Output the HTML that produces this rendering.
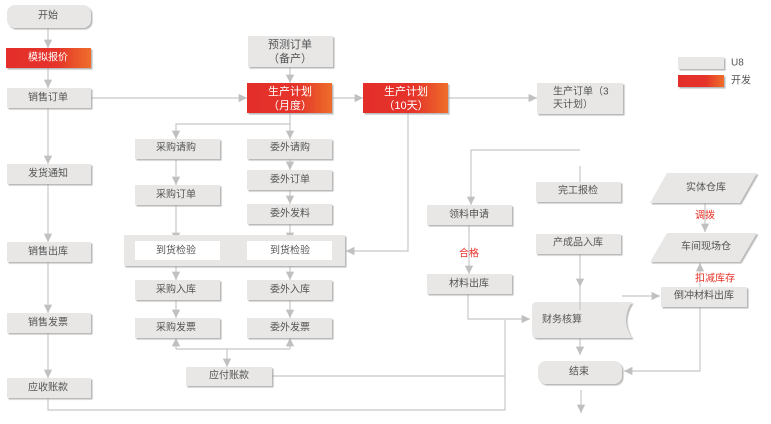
<!DOCTYPE html>
<html><head><meta charset="utf-8"><style>
html,body{margin:0;padding:0;background:#fff}
svg{display:block}
text{font-family:"Liberation Sans","Noto Sans CJK SC",sans-serif;font-size:10px;fill:#555;text-anchor:middle;dominant-baseline:central}
.b{fill:#e8e7e6;filter:url(#s)}
.l{stroke:#c8c8c8;stroke-width:1.2;fill:none}
.a{fill:#c0c0c0}
.w{fill:#fff}
.r{fill:#e8332a}
</style></head><body>
<svg width="771" height="424" viewBox="0 0 771 424" xmlns="http://www.w3.org/2000/svg">
<defs>
<filter id="s" x="-10%" y="-20%" width="130%" height="160%"><feDropShadow dx="1.5" dy="1.5" stdDeviation="0.6" flood-color="#999" flood-opacity="0.7"/></filter>
<linearGradient id="g" x1="0" x2="1"><stop offset="0" stop-color="#e42e2a"/><stop offset="0.6" stop-color="#e5342a"/><stop offset="1" stop-color="#ee6e2c"/></linearGradient>
<marker id="m" viewBox="0 0 10 10" refX="10" refY="5" markerWidth="7" markerHeight="7" orient="auto-start-reverse"><path d="M0,0 L10,5 L0,10 z" fill="#c0c0c0"/></marker>
</defs>

<!-- connectors -->
<g class="l">
<path d="M48,28 V48" marker-end="url(#m)"/>
<path d="M48,68 V88" marker-end="url(#m)"/>
<path d="M48,108 V164" marker-end="url(#m)"/>
<path d="M48,184 V242" marker-end="url(#m)"/>
<path d="M48,262 V313" marker-end="url(#m)"/>
<path d="M48,333 V378" marker-end="url(#m)"/>
<path d="M48,398 V410 H505 V320"/>
<path d="M91,98 H247" marker-end="url(#m)"/>
<path d="M290,67 V83" marker-end="url(#m)"/>
<path d="M332,98 H363" marker-end="url(#m)"/>
<path d="M448,98 H537" marker-end="url(#m)"/>
<path d="M290,113 V139" marker-end="url(#m)"/>
<path d="M290,124 H176 V139" marker-end="url(#m)"/>
<path d="M176,159 V185" marker-end="url(#m)"/>
<path d="M176,205 V241" marker-end="url(#m)"/>
<path d="M290,159 V170" marker-end="url(#m)"/>
<path d="M290,190 V204" marker-end="url(#m)"/>
<path d="M290,224 V241" marker-end="url(#m)"/>
<path d="M176,260 V280" marker-end="url(#m)"/>
<path d="M290,260 V280" marker-end="url(#m)"/>
<path d="M176,300 V318" marker-end="url(#m)"/>
<path d="M290,300 V318" marker-end="url(#m)"/>
<path d="M176,349 H290"/>
<path d="M176,349 V338" marker-end="url(#m)"/>
<path d="M290,349 V338" marker-end="url(#m)"/>
<path d="M227,349 V367" marker-end="url(#m)"/>
<path d="M272,376 H505"/>
<path d="M408,113 V251 H346" marker-end="url(#m)"/>
<path d="M580,150 H471 V205" marker-end="url(#m)"/>
<path d="M580,166 V182"/>
<path d="M469,225 V274" marker-end="url(#m)"/>
<path d="M468,294 V319 H530" marker-end="url(#m)"/>
<path d="M580,254 V287" marker-end="url(#m)"/>
<path d="M580,310 V355" marker-end="url(#m)"/>
<path d="M581,390 V413" marker-end="url(#m)"/>
<path d="M622,296 H660" marker-end="url(#m)"/>
<path d="M700,307 V371 H624" marker-end="url(#m)"/>
<path d="M700,287 V263" marker-end="url(#m)"/>
<path d="M705,203 V232" marker-end="url(#m)"/>
</g>

<!-- left column -->
<rect class="b" x="7" y="5" width="84" height="23" rx="8"/><text x="48" y="16">开始</text>
<rect x="6" y="48" width="85" height="20" fill="url(#g)" filter="url(#s)"/><text x="48" y="58" style="fill:#fff">模拟报价</text>
<rect class="b" x="7" y="88" width="84" height="20"/><text x="48" y="98">销售订单</text>
<rect class="b" x="7" y="164" width="84" height="20"/><text x="48" y="174">发货通知</text>
<rect class="b" x="7" y="242" width="84" height="20"/><text x="48" y="252">销售出库</text>
<rect class="b" x="7" y="313" width="84" height="20"/><text x="48" y="323">销售发票</text>
<rect class="b" x="7" y="378" width="84" height="20"/><text x="48" y="388">应收账款</text>

<!-- planning -->
<rect class="b" x="248" y="36" width="85" height="31"/><text x="290" y="45" style="font-size:11px">预测订单</text><text x="290" y="59" style="font-size:11px">（备产）</text>
<rect x="247" y="83" width="85" height="30" fill="url(#g)" filter="url(#s)"/><text x="290" y="92" style="fill:#fff;font-size:11px">生产计划</text><text x="290" y="106" style="fill:#fff;font-size:11px">（月度）</text>
<rect x="363" y="83" width="85" height="30" fill="url(#g)" filter="url(#s)"/><text x="406" y="92" style="fill:#fff;font-size:11px">生产计划</text><text x="406" y="106" style="fill:#fff;font-size:11px">（10天）</text>
<rect class="b" x="537" y="83" width="86" height="31"/><text x="553" y="92" style="text-anchor:start">生产订单（3</text><text x="553" y="105" style="text-anchor:start">天计划）</text>

<!-- procurement -->
<rect class="b" x="135" y="139" width="85" height="20"/><text x="176" y="148">采购请购</text>
<rect class="b" x="247" y="139" width="85" height="20"/><text x="290" y="148">委外请购</text>
<rect class="b" x="135" y="185" width="85" height="20"/><text x="176" y="195">采购订单</text>
<rect class="b" x="247" y="170" width="85" height="20"/><text x="290" y="180">委外订单</text>
<rect class="b" x="247" y="204" width="85" height="20"/><text x="290" y="214">委外发料</text>
<rect class="b" x="124" y="235" width="221" height="31"/>
<rect class="w" x="135" y="241" width="85" height="19"/><text x="176" y="251">到货检验</text>
<rect class="w" x="247" y="241" width="85" height="19"/><text x="290" y="251">到货检验</text>
<rect class="b" x="135" y="280" width="85" height="20"/><text x="176" y="290">采购入库</text>
<rect class="b" x="247" y="280" width="85" height="20"/><text x="290" y="290">委外入库</text>
<rect class="b" x="135" y="318" width="85" height="20"/><text x="176" y="328">采购发票</text>
<rect class="b" x="247" y="318" width="85" height="20"/><text x="290" y="328">委外发票</text>
<rect class="b" x="186" y="367" width="86" height="19"/><text x="229" y="376">应付账款</text>

<!-- production -->
<rect class="b" x="427" y="205" width="85" height="20"/><text x="469" y="215">领料申请</text>
<text x="469" y="254" style="fill:#e8332a">合格</text>
<rect class="b" x="427" y="274" width="85" height="20"/><text x="469" y="284">材料出库</text>
<rect class="b" x="536" y="182" width="85" height="20"/><text x="578" y="191">完工报检</text>
<rect class="b" x="536" y="234" width="85" height="20"/><text x="578" y="243">产成品入库</text>
<path class="b" d="M537,302 H632 Q620,320 632,338 H537 Q532,338 532,333 V307 Q532,302 537,302 Z"/><text x="562" y="320">财务核算</text>
<path class="l" d="M580,287 V310"/>
<rect class="b" x="538" y="361" width="84" height="23" rx="8"/><text x="579" y="372">结束</text>

<!-- warehouse -->
<path class="b" d="M667,173 H757 L740,203 H650 Z"/><text x="706" y="188">实体仓库</text>
<text x="705" y="216" style="fill:#e8332a">调拨</text>
<path class="b" d="M667,233 H757 L740,262 H650 Z"/><text x="706" y="247">车间现场仓</text>
<text x="715" y="279" style="fill:#e8332a">扣减库存</text>
<rect class="b" x="661" y="287" width="86" height="20"/><text x="704" y="296">倒冲材料出库</text>

<!-- legend -->
<rect class="b" x="678" y="57" width="46" height="12"/><text x="731" y="63" style="text-anchor:start">U8</text>
<rect x="678" y="75" width="46" height="12" fill="url(#g)" filter="url(#s)"/><text x="731" y="81" style="text-anchor:start">开发</text>
</svg>
</body></html>
